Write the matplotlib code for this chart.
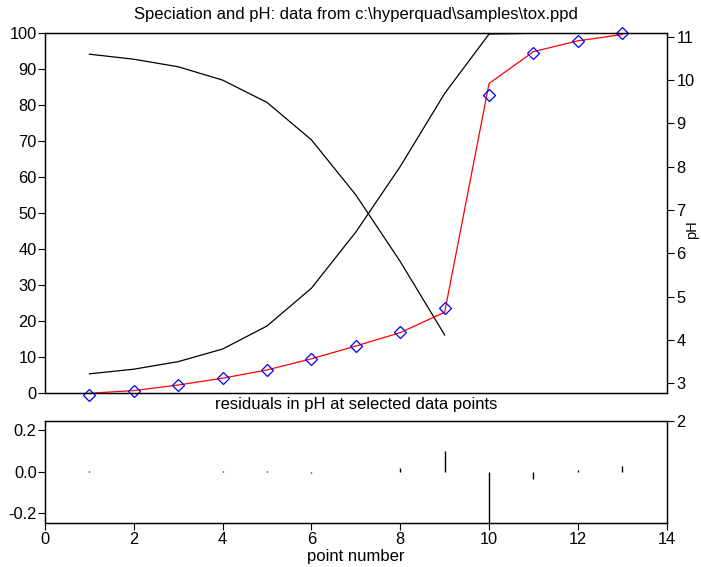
import matplotlib
matplotlib.use("Agg")
import matplotlib.pyplot as plt

plt.rcParams['font.family'] = ['Liberation Sans', 'DejaVu Sans']

# titration point numbers
points = list(range(1, 14))

# species distribution (% of total), curves end where species is negligible
species_a_pts = list(range(1, 10))
species_a = [94.2, 92.8, 90.7, 87.0, 80.8, 70.4, 55.1, 36.6, 16.2]
species_b = [5.4, 6.7, 8.8, 12.3, 18.7, 29.2, 44.8, 63.0, 83.3, 99.8, 100.0, 100.0, 100.0]

# observed and calculated pH
ph_obs = [2.74, 2.83, 2.96, 3.12, 3.31, 3.56, 3.86, 4.19, 4.74, 9.65, 10.62, 10.91, 11.08]
ph_calc = [2.77, 2.832, 2.96, 3.118, 3.308, 3.566, 3.86, 4.17, 4.64, 9.92, 10.655, 10.904, 11.05]

# residuals in pH (obs - calc)
residuals = [0.002, -0.002, 0.0, 0.002, 0.002, -0.007, 0.0, 0.019, 0.10, -0.27, -0.035, 0.007, 0.03]

left_ticks = list(range(0, 101, 10))
ph_ticks = list(range(3, 12))
x_ticks = list(range(0, 15, 2))
res_ticks = [-0.2, 0.0, 0.2]

FS = 11.8
TS = 12

fig = plt.figure(figsize=(7.01, 5.67), dpi=100)
W, H = 701, 567

def box(x0, y0, x1, y1):
    return [x0 / W, 1 - y1 / H, (x1 - x0) / W, (y1 - y0) / H]

ax = fig.add_axes(box(45, 33.3, 666.7, 393.3))
ax.plot(species_a_pts, species_a, color='black', lw=0.9)
ax.plot(points, species_b, color='black', lw=0.9)
ax.set_xlim(0, 14)
ax.set_ylim(0, 100)
ax.set_yticks(left_ticks)
ax.set_xticks([])
ax.tick_params(axis='y', direction='out', length=5, width=0.8, labelsize=FS, pad=1)

axr = ax.twinx()
axr.plot(points, ph_calc, color='red', lw=0.9)
axr.plot(points, ph_obs, linestyle='none', marker='D', markersize=6.5,
         markerfacecolor='none', markeredgecolor='blue', markeredgewidth=0.9,
         clip_on=False)
axr.set_ylim(2.769, 11.078)
axr.set_yticks(ph_ticks)
axr.tick_params(axis='y', direction='out', length=5, width=0.8, labelsize=FS, pad=2)
axr.text(1.041, 0.455, 'pH', transform=axr.transAxes, rotation=90,
         ha='center', va='center', fontsize=10.5)

for a in (ax, axr):
    for s in a.spines.values():
        s.set_linewidth(0.9)

ax2 = fig.add_axes(box(45, 420.7, 666.7, 523.3))
ax2.vlines(points, 0, residuals, color='black', lw=1.0)
ax2.set_xlim(0, 14)
ax2.set_ylim(-0.247, 0.245)
ax2.set_xticks(x_ticks)
ax2.set_yticks(res_ticks)
ax2.set_yticklabels([f'{v:.1f}' for v in res_ticks])
ax2.tick_params(axis='both', direction='out', length=5, width=0.8, labelsize=FS, pad=1)

ax2r = ax2.twinx()
ax2r.set_ylim(0, 2)
ax2r.set_yticks([2])
ax2r.tick_params(axis='y', direction='out', length=5, width=0.8, labelsize=FS, pad=2)
for a in (ax2, ax2r):
    for s in a.spines.values():
        s.set_linewidth(0.9)

fig.text(356 / W, 1 - 14 / H, 'Speciation and pH: data from c:\\hyperquad\\samples\\tox.ppd',
         ha='center', va='center', fontsize=TS)
fig.text(356 / W, 1 - 404 / H, 'residuals in pH at selected data points',
         ha='center', va='center', fontsize=TS)
fig.text(356 / W, 1 - 556 / H, 'point number', ha='center', va='center', fontsize=TS)

fig.savefig('out.png', dpi=100)
